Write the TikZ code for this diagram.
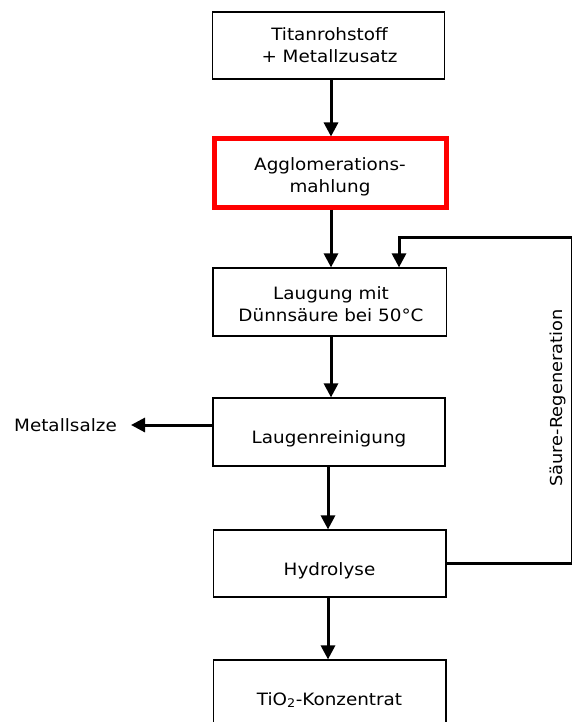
\documentclass[tikz,border=0pt]{standalone}
\usepackage{fontspec}
\setmainfont[FakeStretch=1.08]{DejaVu Sans}
\usetikzlibrary{arrows.meta}
\begin{document}
\begin{tikzpicture}[x=1pt,y=-1pt,
  box/.style={draw=black,line width=1.2pt,inner sep=0pt,fill=white},
  redbox/.style={draw=red,line width=5pt,inner sep=0pt},
  txt/.style={font=\fontsize{17}{22}\selectfont,align=center,inner sep=0pt,text=black},
  arr/.style={line width=3pt,-{Triangle[length=14pt,width=14pt]}},
  feed/.style={line width=3pt}]
\useasboundingbox (0,0) rectangle (572,722);
% boxes
\node[box,minimum width=232pt,minimum height=67pt] (b1) at (328.5,45.5) {};
\node[redbox,minimum width=232pt,minimum height=68pt] (b2) at (330,173) {};
\node[box,minimum width=233.5pt,minimum height=68pt] (b3) at (329.75,302) {};
\node[box,minimum width=232pt,minimum height=68pt] (b4) at (329,432) {};
\node[box,minimum width=232.5pt,minimum height=67pt] (b5) at (329.75,563.5) {};
\node[box,minimum width=232.5pt,minimum height=80pt] (b6) at (329.75,700) {};
% texts
\node[txt] (t1) at (329.5,45) {Titanrohstoff\\+ Metallzusatz};
\node[txt] (t2) at (330,177) {Agglomerations-\\mahlung};
\node[txt] (t3) at (331,304) {Laugung mit\\Dünnsäure bei 50°C};
\node[txt,anchor=base] (t4) at (329,443) {Laugenreinigung};
\node[txt,anchor=base] (t5) at (329.5,575) {Hydrolyse};
\node[txt,anchor=base] (t6) at (329.5,705) {TiO\textsubscript{2}-Konzentrat};
\node[txt,anchor=base east] (ms) at (117,431) {Metallsalze};
\node[txt,font=\fontsize{16.5}{22}\selectfont,rotate=90] (sr) at (558,398) {Säure-Regeneration};
% helper coordinates
\coordinate (cA) at (331,0);
\coordinate (cB) at (328,0);
\coordinate (cE) at (572.5,0);
\coordinate (cT) at (399,237);
\coordinate (cM) at (131,425);
% connectors
\draw[arr] (b1.south -| cA) -- (b2.north -| cA);
\draw[arr] (b2.south -| cA) -- (b3.north -| cA);
\draw[arr] (b3.south -| cA) -- (b4.north -| cA);
\draw[arr] (b4.south -| cB) -- (b5.north -| cB);
\draw[arr] (b5.south -| cB) -- (b6.north -| cB);
\draw[arr] (cM -| b4.west) -- (cM);
\draw[arr] (b5.east) -- (b5.east -| cE) |- (cT) -- (cT |- b3.north);
\end{tikzpicture}
\end{document}
